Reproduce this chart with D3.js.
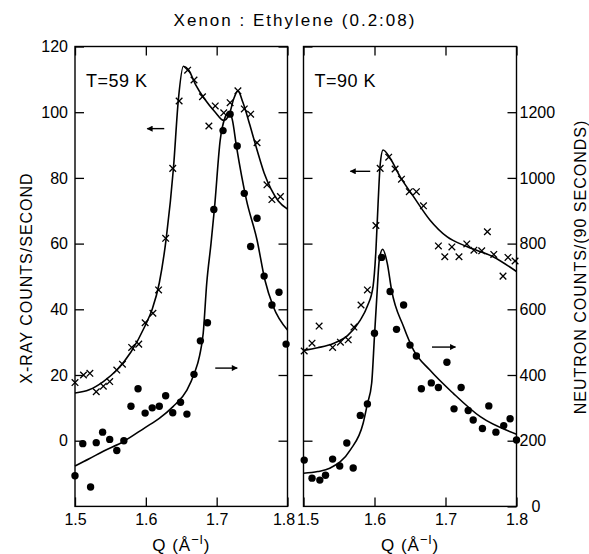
<!DOCTYPE html>
<html>
<head>
<meta charset="utf-8">
<script src="https://cdn.jsdelivr.net/npm/d3@7"></script>
<style>
  body { margin: 0; background: #fff; }
  svg { font-family: "Liberation Sans", Arial, sans-serif; }
  .frame { fill: none; stroke: #000; stroke-width: 1.4; }
  .tick line { stroke: #000; stroke-width: 1.3; }
  .tick text { font-size: 16px; fill: #000; }
  .fit { fill: none; stroke: #000; stroke-width: 1.6; }
  .cross { fill: none; stroke: #000; stroke-width: 1.3; }
</style>
</head>
<body>
<div id="chart"></div>
<script>
var qTicks = [1.5, 1.6, 1.7, 1.8];
var xrayTicks = [0, 20, 40, 60, 80, 100, 120];
var neutronTicks = [0, 200, 400, 600, 800, 1000, 1200];

// T = 59 K, x-ray counts/second (crosses)
var xray59 = [
  [1.500, 17.7], [1.512, 20], [1.521, 20.5], [1.530, 14.9], [1.540, 16.6],
  [1.549, 18.0], [1.559, 21.5], [1.567, 23.3], [1.580, 28.4], [1.590, 29.4],
  [1.599, 35.9], [1.610, 38.8], [1.618, 45.9], [1.628, 61.6], [1.638, 82.9],
  [1.647, 103.4], [1.659, 112.8], [1.668, 109.8], [1.680, 104.7], [1.689, 95.8],
  [1.698, 101.9], [1.710, 99.8], [1.719, 102.9], [1.730, 106.5], [1.739, 101],
  [1.748, 99.4], [1.757, 90.7], [1.771, 77.9], [1.778, 73.4], [1.790, 74.3]
];
var xrayFit59 = [
  [1.500, 14.5], [1.520, 15.5], [1.540, 18], [1.559, 21.5], [1.579, 27],
  [1.599, 35], [1.609, 40], [1.619, 48], [1.629, 62], [1.639, 83],
  [1.646, 104], [1.653, 114], [1.660, 113], [1.670, 108.5], [1.683, 104],
  [1.698, 100], [1.710, 97.5], [1.718, 99.5], [1.724, 104], [1.730, 106.5],
  [1.737, 103], [1.747, 96], [1.757, 88.5], [1.767, 81.5], [1.777, 76.5],
  [1.787, 73], [1.800, 70.5]
];
// T = 59 K, neutron counts/(90 s) (dots)
var neutron59 = [
  [1.500, 93.5], [1.511, 191], [1.522, 59], [1.530, 194], [1.539, 226],
  [1.549, 204], [1.559, 170], [1.569, 200], [1.579, 305], [1.589, 358],
  [1.599, 284], [1.609, 300], [1.619, 305], [1.628, 337], [1.638, 285],
  [1.649, 317], [1.658, 281], [1.668, 402], [1.677, 504], [1.687, 559],
  [1.696, 904], [1.709, 1144], [1.719, 1194], [1.729, 1097], [1.739, 953],
  [1.748, 791], [1.757, 877], [1.767, 701], [1.778, 613], [1.788, 652],
  [1.798, 494]
];
var neutronFit59 = [
  [1.500, 123], [1.520, 145], [1.540, 168], [1.568, 197], [1.599, 240],
  [1.619, 268], [1.638, 303], [1.658, 354], [1.668, 402], [1.676, 460],
  [1.681, 527], [1.686, 680], [1.692, 800], [1.697, 910], [1.705, 1115],
  [1.712, 1185], [1.717, 1200], [1.722, 1178], [1.728, 1095], [1.742, 933],
  [1.757, 811], [1.768, 690], [1.780, 608], [1.800, 537]
];

// T = 90 K
var xray90 = [
  [1.501, 27.3], [1.512, 29.7], [1.522, 34.9], [1.541, 28.4], [1.552, 30.0],
  [1.563, 30.7], [1.571, 34.6], [1.581, 41.3], [1.590, 45.9], [1.602, 65.5],
  [1.608, 82.9], [1.620, 86.3], [1.629, 82.7], [1.638, 79.6], [1.649, 75.8],
  [1.659, 75.8], [1.669, 71.5], [1.690, 59.3], [1.699, 56], [1.709, 59],
  [1.719, 56], [1.730, 59.9], [1.740, 58], [1.751, 57.8], [1.759, 63.6],
  [1.768, 56.7], [1.781, 50.1], [1.788, 55.8], [1.798, 54.7]
];
var xrayFit90 = [
  [1.500, 27.5], [1.520, 28.3], [1.542, 29.6], [1.562, 32], [1.580, 36.7],
  [1.590, 41], [1.598, 47], [1.602, 58], [1.605, 72], [1.608, 84],
  [1.612, 88.5], [1.622, 86], [1.636, 80.4], [1.655, 74.3], [1.678, 67.2],
  [1.702, 62.1], [1.730, 59.1], [1.767, 56], [1.800, 51.5]
];
var neutron90 = [
  [1.501, 141], [1.512, 86], [1.523, 80], [1.531, 95], [1.541, 144],
  [1.551, 123], [1.561, 193], [1.570, 117], [1.580, 277], [1.590, 312],
  [1.600, 527], [1.610, 758], [1.622, 654], [1.631, 539], [1.641, 613],
  [1.650, 491], [1.659, 458], [1.666, 358], [1.680, 376], [1.690, 362],
  [1.702, 439], [1.712, 297], [1.722, 362], [1.732, 292], [1.739, 263],
  [1.752, 237], [1.761, 306], [1.771, 226], [1.782, 246], [1.791, 267],
  [1.800, 202]
];
var neutronFit90 = [
  [1.500, 101], [1.520, 106], [1.537, 116], [1.566, 172], [1.584, 253],
  [1.590, 312], [1.596, 375], [1.600, 520], [1.603, 628], [1.607, 755],
  [1.6115, 783], [1.618, 740], [1.624, 659], [1.641, 547], [1.655, 476],
  [1.678, 415], [1.711, 344], [1.749, 273], [1.800, 220]
];

// arrows: [q from, q to, value]
var arrows59 = { xray: [1.626, 1.602, 95], neutron: [1.698, 1.729, 421] };
var arrows90 = { xray: [1.594, 1.566, 82], neutron: [1.681, 1.714, 485] };

var width = 589, height = 554;
var plotTop = 46.5, plotBottom = 506.4;

var svg = d3.select("#chart").append("svg")
  .attr("width", width)
  .attr("height", height);

svg.append("defs").append("marker")
  .attr("id", "head")
  .attr("viewBox", "0 0 10 10")
  .attr("refX", 9).attr("refY", 5)
  .attr("markerWidth", 8).attr("markerHeight", 6)
  .attr("markerUnits", "userSpaceOnUse")
  .attr("orient", "auto")
  .append("path").attr("d", "M0,0L10,5L0,10Z").attr("fill", "#000");

var y = d3.scaleLinear().domain([-20, 120]).range([plotBottom, plotTop]);
var yN = d3.scaleLinear().domain([0, 1400]).range([plotBottom, plotTop]);

function drawPanel(x0, x1, label, xr, xrFit, nt, ntFit, arr, first) {
  var x = d3.scaleLinear().domain([1.5, 1.8]).range([x0, x1]);
  var g = svg.append("g");

  g.append("g").attr("transform", "translate(" + x0 + ",0)")
    .call(d3.axisLeft(y).tickValues(xrayTicks).tickSizeInner(-9).tickSizeOuter(0)
      .tickPadding(7).tickFormat(first ? d3.format("d") : ""))
    .call(function(a) { a.select(".domain").remove(); });

  var right = g.append("g").attr("transform", "translate(" + x1 + ",0)");
  if (first) {
    right.call(d3.axisRight(y).tickValues(xrayTicks).tickSizeInner(-9).tickSizeOuter(0).tickFormat(""));
  } else {
    right.call(d3.axisRight(yN).tickValues(neutronTicks).tickSizeInner(-9).tickSizeOuter(0)
      .tickPadding(3).tickFormat(d3.format("d")));
    right.selectAll(".tick text").filter(function(d) { return d === 0; })
      .attr("dx", 12);
  }
  right.select(".domain").remove();

  var bottomAxis = g.append("g").attr("transform", "translate(0," + plotBottom + ")")
    .call(d3.axisBottom(x).tickValues(qTicks).tickSizeInner(-9).tickSizeOuter(0)
      .tickPadding(7).tickFormat(d3.format(".1f")))
    .call(function(a) { a.select(".domain").remove(); });
  // keep the shared 1.8 | 1.5 labels apart between the panels
  bottomAxis.selectAll(".tick text")
    .attr("dx", function(d) { return first && d === 1.8 ? -4 : (!first && d === 1.5 ? 4 : 0); });

  g.append("g").attr("transform", "translate(0," + plotTop + ")")
    .call(d3.axisTop(x).tickValues(qTicks).tickSizeInner(-9).tickSizeOuter(0).tickFormat(""))
    .call(function(a) { a.select(".domain").remove(); });

  g.append("rect").attr("class", "frame")
    .attr("x", x0).attr("y", plotTop)
    .attr("width", x1 - x0).attr("height", plotBottom - plotTop);

  var lineX = d3.line().x(function(d) { return x(d[0]); }).y(function(d) { return y(d[1]); })
    .curve(d3.curveMonotoneX);
  var lineN = d3.line().x(function(d) { return x(d[0]); }).y(function(d) { return yN(d[1]); })
    .curve(d3.curveMonotoneX);

  g.append("path").attr("class", "fit").attr("d", lineX(xrFit));
  g.append("path").attr("class", "fit").attr("d", lineN(ntFit));

  var s = 3.3;
  g.selectAll(".cross").data(xr).enter().append("path")
    .attr("class", "cross")
    .attr("transform", function(d) { return "translate(" + x(d[0]) + "," + y(d[1]) + ")"; })
    .attr("d", "M" + (-s) + "," + (-s) + "L" + s + "," + s + "M" + (-s) + "," + s + "L" + s + "," + (-s));

  g.selectAll(".dot").data(nt).enter().append("circle")
    .attr("class", "dot")
    .attr("cx", function(d) { return x(d[0]); })
    .attr("cy", function(d) { return yN(d[1]); })
    .attr("r", 3.7)
    .attr("fill", "#000");

  g.append("line")
    .attr("x1", x(arr.xray[0])).attr("x2", x(arr.xray[1]))
    .attr("y1", y(arr.xray[2])).attr("y2", y(arr.xray[2]))
    .attr("stroke", "#000").attr("stroke-width", 1.4).attr("marker-end", "url(#head)");
  g.append("line")
    .attr("x1", x(arr.neutron[0])).attr("x2", x(arr.neutron[1]))
    .attr("y1", yN(arr.neutron[2])).attr("y2", yN(arr.neutron[2]))
    .attr("stroke", "#000").attr("stroke-width", 1.4).attr("marker-end", "url(#head)");

  g.append("text")
    .attr("x", x0 + 11).attr("y", 87)
    .attr("font-size", 18).attr("letter-spacing", 0.5)
    .text(label);

  var q = g.append("text")
    .attr("x", (x0 + x1) / 2).attr("y", 551)
    .attr("text-anchor", "middle").attr("font-size", 17).attr("letter-spacing", 1);
  q.append("tspan").text("Q  (\u00c5");
  q.append("tspan").attr("dy", -7).attr("font-size", 13).text("\u2212l");
  q.append("tspan").attr("dy", 7).text(")");
}

drawPanel(75, 287.5, "T=59 K", xray59, xrayFit59, neutron59, neutronFit59, arrows59, true);
drawPanel(303.5, 516.5, "T=90 K", xray90, xrayFit90, neutron90, neutronFit90, arrows90, false);

svg.append("text")
  .attr("x", 295).attr("y", 26)
  .attr("text-anchor", "middle").attr("font-size", 17).attr("letter-spacing", 2)
  .text("Xenon : Ethylene (0.2:08)");

svg.append("text")
  .attr("transform", "translate(32,278) rotate(-90)")
  .attr("text-anchor", "middle").attr("font-size", 16).attr("letter-spacing", 1)
  .text("X-RAY COUNTS/SECOND");

svg.append("text")
  .attr("transform", "translate(586,267) rotate(-90)")
  .attr("text-anchor", "middle").attr("font-size", 16).attr("letter-spacing", 1)
  .text("NEUTRON COUNTS/(90 SECONDS)");
</script>
</body>
</html>
